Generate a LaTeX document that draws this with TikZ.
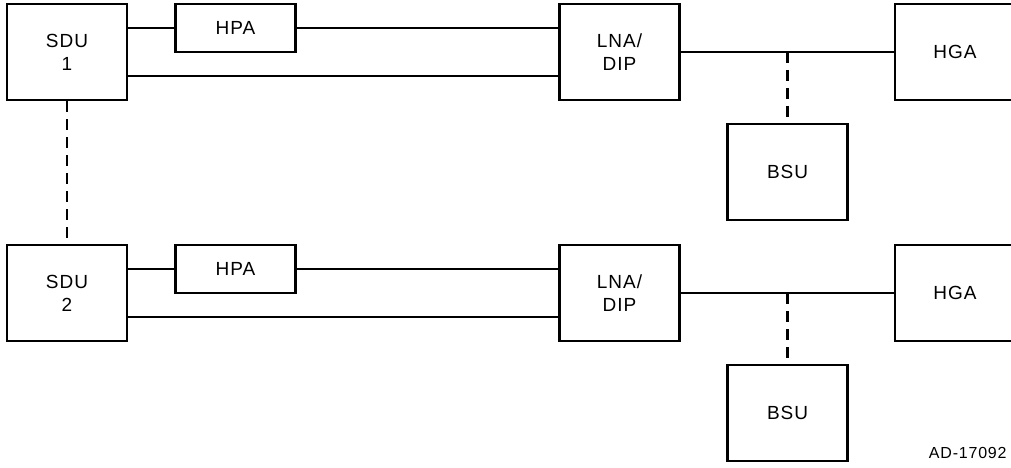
\documentclass[tikz,border=0pt]{standalone}
\usepackage{fontspec}
\setmainfont[LetterSpace=5]{Liberation Sans}
\usepackage{tikz}

\begin{document}
\begin{tikzpicture}[x=1pt,y=-1pt,line width=2.8pt,
		unit/.style={draw,inner sep=0pt,minimum width=120pt,minimum height=96pt,align=center,font=\fontsize{19}{23}\selectfont},
		amp/.style={unit,minimum height=48pt},
		link/.style={line width=2.6pt},
		busline/.style={line width=2.4pt,dash pattern=on 11pt off 7pt}]
		\useasboundingbox (0,0) rectangle (1011,468);
		% top chain
		\node[unit] (sdu1) at (67,52) {SDU\\1};
		\node[amp] (hpa1) at (235.5,28) {HPA};
		\node[unit] (lna1) at (619.5,52) {LNA/\\DIP};
		\node[unit] (hga1) at (955,52) {HGA};
		\node[unit] (bsu1) at (787.5,172) {BSU};
		\draw[link] (hpa1.west -| sdu1.east) -- (hpa1.west);
		\draw[link] (hpa1.east) -- (hpa1.east -| lna1.west);
		\draw[link] ([yshift=-24pt]sdu1.east) -- ([yshift=-24pt]lna1.west);
		\draw[link] (lna1.east) -- (hga1.west);
		\draw[busline] (bsu1.north |- lna1.east) -- (bsu1.north);
		% bottom chain
		\node[unit] (sdu2) at (67,293) {SDU\\2};
		\node[amp] (hpa2) at (235.5,269) {HPA};
		\node[unit] (lna2) at (619.5,293) {LNA/\\DIP};
		\node[unit] (hga2) at (955,293) {HGA};
		\node[unit] (bsu2) at (787.5,413) {BSU};
		\draw[link] (hpa2.west -| sdu2.east) -- (hpa2.west);
		\draw[link] (hpa2.east) -- (hpa2.east -| lna2.west);
		\draw[link] ([yshift=-24pt]sdu2.east) -- ([yshift=-24pt]lna2.west);
		\draw[link] (lna2.east) -- (hga2.west);
		\draw[busline] (bsu2.north |- lna2.east) -- (bsu2.north);
		% cross link
		\draw[busline] (sdu1.south) -- (sdu2.north);
		\node[anchor=east,inner sep=0pt,font=\fontsize{16}{19}\selectfont] (tag) at (1008,453) {AD-17092};
	\end{tikzpicture}
\end{document}
